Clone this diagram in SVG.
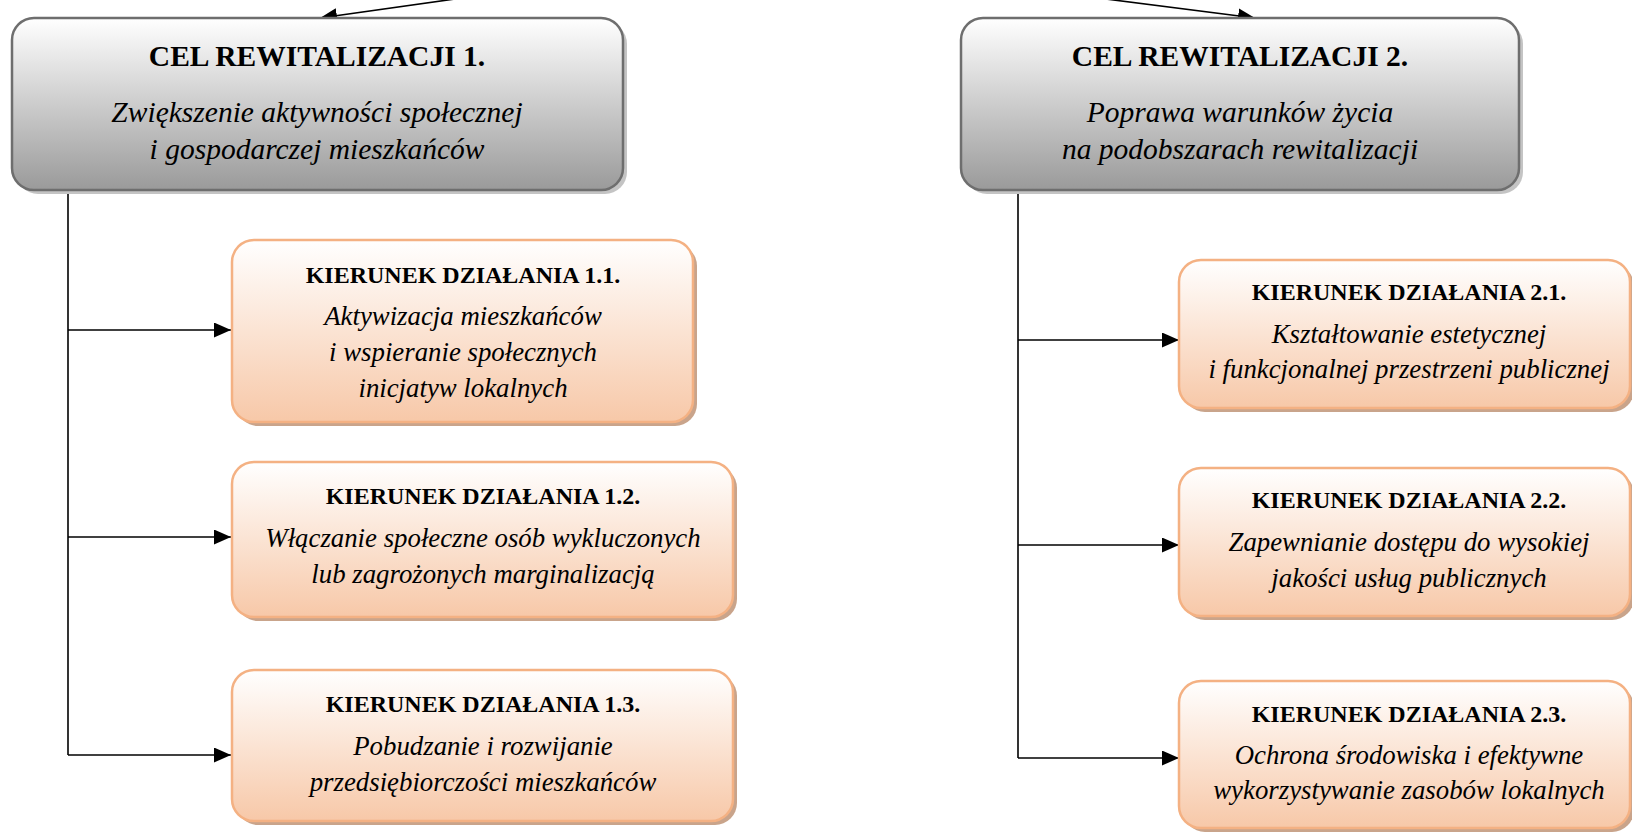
<svg xmlns="http://www.w3.org/2000/svg" width="1632" height="832" viewBox="0 0 1632 832">
<defs>
<linearGradient id="gGray" x1="0" y1="0" x2="0" y2="1">
<stop offset="0" stop-color="#ffffff"/>
<stop offset="1" stop-color="#9a9a9a"/>
</linearGradient>
<linearGradient id="gOr" x1="0" y1="0" x2="0" y2="1">
<stop offset="0" stop-color="#ffffff"/>
<stop offset="1" stop-color="#f7c8a8"/>
</linearGradient>
<marker id="ah" markerWidth="17" markerHeight="15" refX="17" refY="7.5" orient="auto" markerUnits="userSpaceOnUse">
<path d="M0,0 L17,7.5 L0,15 Z" fill="#000"/>
</marker>
<style>
.gshadow{fill:#c4c4c4}
.gbox{fill:url(#gGray);stroke:#6e6e6e;stroke-width:2.5}
.oshadow{fill:#c9a48b}
.obox{fill:url(#gOr);stroke:#f4b183;stroke-width:2.5}
.t1{font-family:"Liberation Serif","Times New Roman",serif;font-weight:bold;font-size:29.5px;text-anchor:middle;fill:#000}
.i1{font-family:"Liberation Serif","Times New Roman",serif;font-style:italic;font-size:29.5px;text-anchor:middle;fill:#000}
.t2{font-family:"Liberation Serif","Times New Roman",serif;font-weight:bold;font-size:24px;text-anchor:middle;fill:#000}
.i2{font-family:"Liberation Serif","Times New Roman",serif;font-style:italic;font-size:26.8px;text-anchor:middle;fill:#000}
.conn{fill:none;stroke:#000;stroke-width:1.6}
</style>
</defs>
<rect width="1632" height="832" fill="#fff"/>

<g id="connectors">
<path class="conn" d="M462,-2 L320,18" marker-end="url(#ah)"/>
<path class="conn" d="M1098,-2 L1255,18" marker-end="url(#ah)"/>
<path class="conn" d="M68,191 L68,755"/>
<path class="conn" d="M68,330 L231,330" marker-end="url(#ah)"/>
<path class="conn" d="M68,537 L231,537" marker-end="url(#ah)"/>
<path class="conn" d="M68,755 L231,755" marker-end="url(#ah)"/>
<path class="conn" d="M1018,191 L1018,758"/>
<path class="conn" d="M1018,340 L1179,340" marker-end="url(#ah)"/>
<path class="conn" d="M1018,545 L1179,545" marker-end="url(#ah)"/>
<path class="conn" d="M1018,758 L1179,758" marker-end="url(#ah)"/>
</g>

<g id="cel1">
<rect class="gshadow" x="16" y="22" width="611" height="172" rx="22"/>
<rect class="gbox" x="12" y="18" width="611" height="172" rx="22"/>
<text class="t1" x="317" y="66">CEL REWITALIZACJI 1.</text>
<text class="i1" x="317" y="122">Zwiększenie aktywności społecznej</text>
<text class="i1" x="317" y="159">i gospodarczej mieszkańców</text>
</g>

<g id="cel2">
<rect class="gshadow" x="965" y="22" width="558" height="172" rx="22"/>
<rect class="gbox" x="961" y="18" width="558" height="172" rx="22"/>
<text class="t1" x="1240" y="66">CEL REWITALIZACJI 2.</text>
<text class="i1" x="1240" y="122">Poprawa warunków życia</text>
<text class="i1" x="1240" y="159">na podobszarach rewitalizacji</text>
</g>

<g id="k11">
<rect class="oshadow" x="236" y="244" width="461" height="182" rx="22"/>
<rect class="obox" x="232" y="240" width="461" height="182" rx="22"/>
<text class="t2" x="463" y="283">KIERUNEK DZIAŁANIA 1.1.</text>
<text class="i2" x="463" y="325">Aktywizacja mieszkańców</text>
<text class="i2" x="463" y="361">i wspieranie społecznych</text>
<text class="i2" x="463" y="397">inicjatyw lokalnych</text>
</g>

<g id="k12">
<rect class="oshadow" x="236" y="466" width="501" height="155" rx="22"/>
<rect class="obox" x="232" y="462" width="501" height="155" rx="22"/>
<text class="t2" x="483" y="504">KIERUNEK DZIAŁANIA 1.2.</text>
<text class="i2" x="483" y="547">Włączanie społeczne osób wykluczonych</text>
<text class="i2" x="483" y="583">lub zagrożonych marginalizacją</text>
</g>

<g id="k13">
<rect class="oshadow" x="236" y="674" width="501" height="151" rx="22"/>
<rect class="obox" x="232" y="670" width="501" height="151" rx="22"/>
<text class="t2" x="483" y="712">KIERUNEK DZIAŁANIA 1.3.</text>
<text class="i2" x="483" y="755">Pobudzanie i rozwijanie</text>
<text class="i2" x="483" y="791">przedsiębiorczości mieszkańców</text>
</g>

<g id="k21">
<rect class="oshadow" x="1183" y="264" width="451" height="148" rx="22"/>
<rect class="obox" x="1179" y="260" width="451" height="148" rx="22"/>
<text class="t2" x="1409" y="300">KIERUNEK DZIAŁANIA 2.1.</text>
<text class="i2" x="1409" y="343">Kształtowanie estetycznej</text>
<text class="i2" x="1409" y="378">i funkcjonalnej przestrzeni publicznej</text>
</g>

<g id="k22">
<rect class="oshadow" x="1183" y="472" width="451" height="148" rx="22"/>
<rect class="obox" x="1179" y="468" width="451" height="148" rx="22"/>
<text class="t2" x="1409" y="508">KIERUNEK DZIAŁANIA 2.2.</text>
<text class="i2" x="1409" y="551">Zapewnianie dostępu do wysokiej</text>
<text class="i2" x="1409" y="587">jakości usług publicznych</text>
</g>

<g id="k23">
<rect class="oshadow" x="1183" y="685" width="451" height="147" rx="22"/>
<rect class="obox" x="1179" y="681" width="451" height="147" rx="22"/>
<text class="t2" x="1409" y="722">KIERUNEK DZIAŁANIA 2.3.</text>
<text class="i2" x="1409" y="764">Ochrona środowiska i efektywne</text>
<text class="i2" x="1409" y="799">wykorzystywanie zasobów lokalnych</text>
</g>
</svg>
